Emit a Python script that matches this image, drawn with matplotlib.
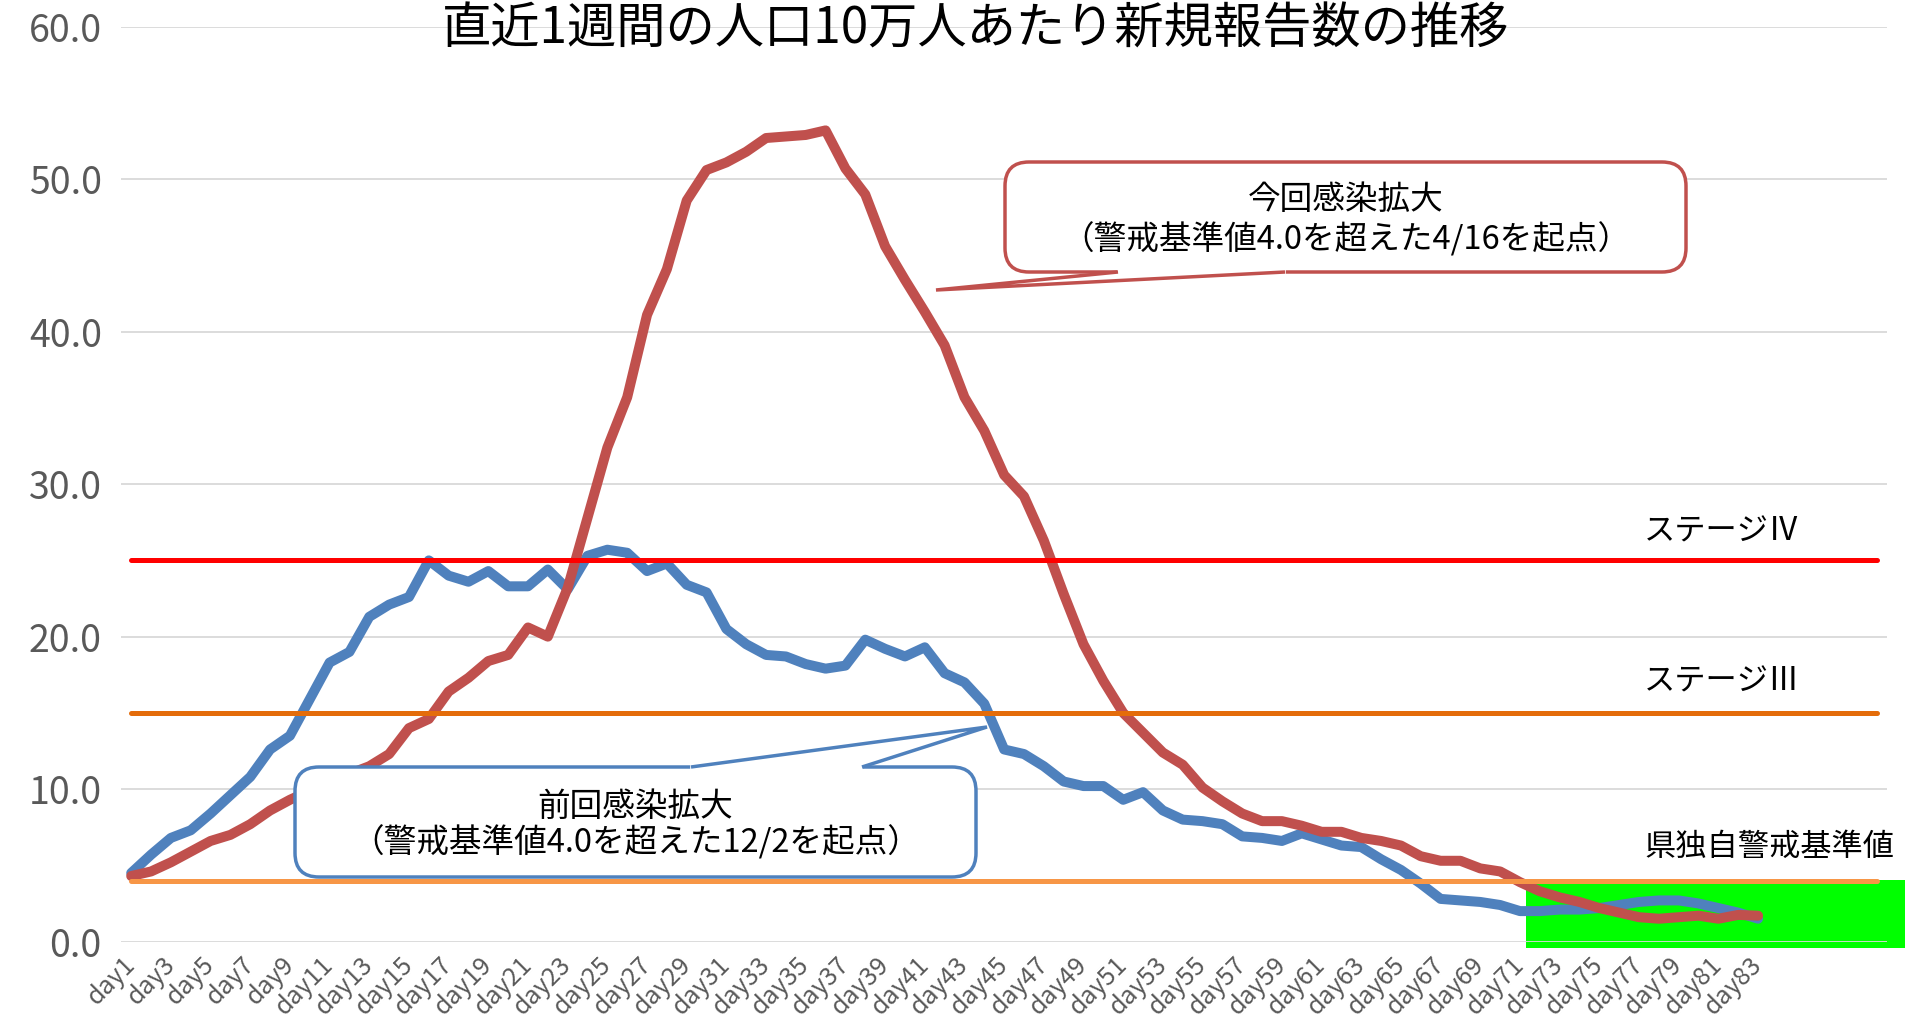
import matplotlib
matplotlib.use('Agg')
import matplotlib.pyplot as plt
from matplotlib.patches import FancyBboxPatch, Polygon, Rectangle

plt.rcParams['font.family'] = ['Noto Sans CJK JP', 'DejaVu Sans']

# Data: 直近1週間の人口10万人あたり新規報告数
days = list(range(1, 84))
prev_wave = [4.5, 5.7, 6.8, 7.3, 8.4, 9.6, 10.8, 12.6, 13.5, 15.9,
             18.3, 19.0, 21.3, 22.1, 22.6, 25.0, 24.0, 23.6, 24.3, 23.3,
             23.3, 24.4, 23.1, 25.3, 25.7, 25.5, 24.3, 24.8, 23.4, 22.9,
             20.5, 19.5, 18.8, 18.7, 18.2, 17.9, 18.1, 19.8, 19.2, 18.7,
             19.3, 17.6, 17.0, 15.6, 12.6, 12.3, 11.5, 10.5, 10.2, 10.2,
             9.3, 9.8, 8.6, 8.0, 7.9, 7.7, 6.9, 6.8, 6.6, 7.1,
             6.7, 6.3, 6.2, 5.4, 4.7, 3.8, 2.8, 2.7, 2.6, 2.4,
             2.0, 2.0, 2.1, 2.1, 2.2, 2.4, 2.6, 2.7, 2.7, 2.5,
             2.2, 1.9, 1.5]
this_wave = [4.3, 4.6, 5.2, 5.9, 6.6, 7.0, 7.7, 8.6, 9.3, 9.9,
             10.5, 11.0, 11.5, 12.3, 14.0, 14.6, 16.4, 17.3, 18.4, 18.8,
             20.6, 20.0, 23.2, 27.8, 32.4, 35.7, 41.1, 44.1, 48.6, 50.6,
             51.1, 51.8, 52.7, 52.8, 52.9, 53.2, 50.7, 49.0, 45.6, 43.4,
             41.3, 39.1, 35.7, 33.5, 30.6, 29.2, 26.3, 22.8, 19.5, 17.1,
             15.0, 13.7, 12.4, 11.6, 10.1, 9.2, 8.4, 7.9, 7.9, 7.6,
             7.2, 7.2, 6.8, 6.6, 6.3, 5.6, 5.3, 5.3, 4.8, 4.6,
             3.9, 3.3, 2.9, 2.6, 2.2, 1.9, 1.6, 1.5, 1.6, 1.7,
             1.5, 1.75, 1.7]

# reference levels span the full category axis (89 rows)
axis_days = list(range(1, 90))
stage4 = [25.0] * len(axis_days)
stage3 = [15.0] * len(axis_days)
alert = [4.0] * len(axis_days)

tick_days = list(range(1, 84, 2))
tick_labels = [f'day{d}' for d in tick_days]

W, H = 1905, 1018
fig = plt.figure(figsize=(W / 100, H / 100), dpi=100)
ax = fig.add_axes([121.3 / W, 1 - 941.6 / H, (1887 - 121.3) / W, (941.6 - 26.7) / H])
ax.patch.set_visible(False)

# green highlight behind the chart
fig.patches.append(Rectangle((1526 / W, 1 - 948 / H), 1 - 1526 / W, 68 / H,
                             transform=fig.transFigure, facecolor='#00FF00',
                             edgecolor='none', zorder=-1))

ax.plot(days, prev_wave, color='#4F81BD', lw=7.2, solid_capstyle='round',
        solid_joinstyle='round', zorder=3)
ax.plot(days, this_wave, color='#C0504D', lw=7.2, solid_capstyle='round',
        solid_joinstyle='round', zorder=4)
ax.plot(axis_days, stage4, color='#FF0000', lw=3.6, solid_capstyle='round', zorder=5)
ax.plot(axis_days, stage3, color='#E46C0A', lw=3.6, solid_capstyle='round', zorder=5)
ax.plot(axis_days, alert, color='#F79646', lw=3.6, solid_capstyle='round', zorder=5)

ax.set_xlim(0.5, 89.5)
ax.set_ylim(0, 60)
ax.set_yticks(range(0, 61, 10))
ax.set_yticklabels([f'{v:.1f}' for v in range(0, 61, 10)], fontsize=27, color='#595959')
ax.set_xticks(tick_days)
ax.set_xticklabels(tick_labels, rotation=45, ha='right', va='center',
                   rotation_mode='anchor', fontsize=18, color='#595959')
ax.tick_params(axis='both', length=0)
ax.tick_params(axis='y', pad=14)
ax.tick_params(axis='x', pad=14)
ax.grid(axis='y', color='#D9D9D9', lw=1.3)
ax.set_axisbelow(True)
for s in ax.spines.values():
    s.set_visible(False)

fig.text(976 / W, 1 - 30 / H, '直近1週間の人口10万人あたり新規報告数の推移',
         ha='center', va='center', fontsize=35.5, color='black')

for label, ypx in [('ステージⅣ', 531), ('ステージⅢ', 682), ('県独自警戒基準値', 847)]:
    fig.text(1644 / W, 1 - ypx / H, label, ha='left', va='center', fontsize=22.5)


def inch(x, y):
    return x / 100, (H - y) / 100


def callout(x0, y0, x1, y1, base_a, base_b, edge_y, tip, color, lines, text_y):
    tr = fig.dpi_scale_trans
    bx, by = inch(x0, y1)
    box = FancyBboxPatch((bx, by), (x1 - x0) / 100, (y1 - y0) / 100,
                         boxstyle='round,pad=0,rounding_size=0.24',
                         transform=tr, facecolor='white', edgecolor=color,
                         lw=2.5, zorder=10)
    fig.patches.append(box)
    a = inch(base_a, edge_y)
    b = inch(base_b, edge_y)
    t = inch(*tip)
    gap = plt.Line2D([a[0] + 0.02, b[0] - 0.02], [a[1], b[1]], transform=tr,
                     color='white', lw=4, zorder=11)
    fig.lines.append(gap)
    fig.patches.append(Polygon([a, t, b], closed=False, transform=tr,
                               facecolor='white', edgecolor=color, lw=2.5,
                               joinstyle='miter', zorder=12))
    cx = (x0 + x1) / 2
    for txt, ty in zip(lines, text_y):
        fig.text(cx / W, 1 - ty / H, txt, ha='center', va='center',
                 fontsize=23.5, zorder=13)


callout(1005, 162, 1686, 272, 1118, 1285, 272, (936, 290), '#C0504D',
        ['今回感染拡大', '（警戒基準値4.0を超えた4/16を起点）'], [200, 239])
callout(295, 767, 976, 877, 691, 862, 767, (987, 727), '#4F81BD',
        ['前回感染拡大', '（警戒基準値4.0を超えた12/2を起点）'], [807, 842])

fig.savefig('out.png', dpi=100)
